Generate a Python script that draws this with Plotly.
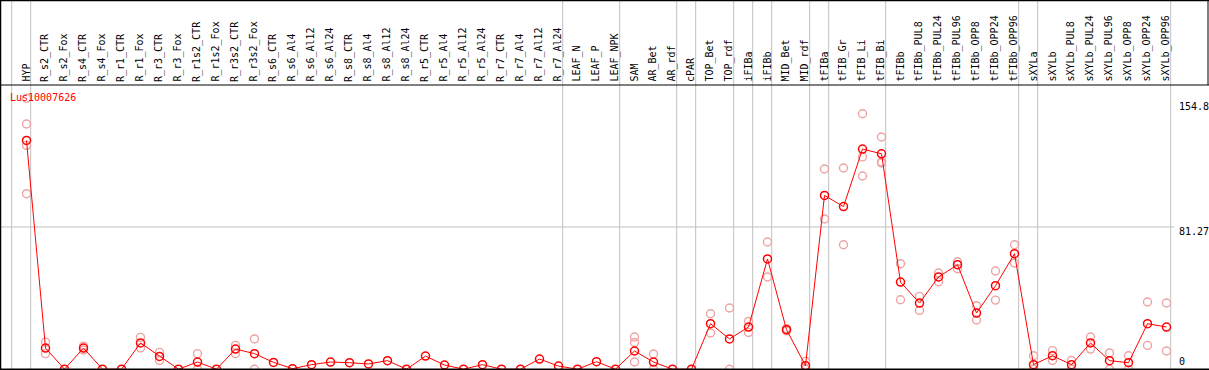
import plotly.graph_objects as go

W, H = 1209, 370

categories = ["HYP", "R_s2_CTR", "R_s2_Fox", "R_s4_CTR", "R_s4_Fox", "R_r1_CTR", "R_r1_Fox",
              "R_r3_CTR", "R_r3_Fox", "R_r1s2_CTR", "R_r1s2_Fox", "R_r3s2_CTR", "R_r3s2_Fox",
              "R_s6_CTR", "R_s6_Al4", "R_s6_Al12", "R_s6_Al24", "R_s8_CTR", "R_s8_Al4",
              "R_s8_Al12", "R_s8_Al24", "R_r5_CTR", "R_r5_Al4", "R_r5_Al12", "R_r5_Al24",
              "R_r7_CTR", "R_r7_Al4", "R_r7_Al12", "R_r7_Al24", "LEAF_N", "LEAF_P", "LEAF_NPK",
              "SAM", "AR_Bet", "AR_rdf", "cPAR", "TOP_Bet", "TOP_rdf", "iFIBa", "iFIBb",
              "MID_Bet", "MID_rdf", "tFIBa", "tFIB_Gr", "tFIB_Li", "tFIB_Bi", "tFIBb",
              "tFIBb_PUL8", "tFIBb_PUL24", "tFIBb_PUL96", "tFIBb_OPP8", "tFIBb_OPP24",
              "tFIBb_OPP96", "sXYLa", "sXYLb", "sXYLb_PUL8", "sXYLb_PUL24", "sXYLb_PUL96",
              "sXYLb_OPP8", "sXYLb_OPP24", "sXYLb_OPP96"]

means = [130.7, 12.1, 0, 12.1, 0, 0, 15.0, 7.3, 0, 4.1, 0, 11.5, 8.9, 3.9, 0.3, 2.6, 4.1,
         3.7, 3.0, 4.9, 0, 7.5, 2.4, 0, 2.6, 0, 0, 5.8, 1.8, 0, 4.3, 0, 10.4, 4.1, 0, 0,
         26.0, 17.3, 24.1, 63.0, 22.6, 2.0, 99.3, 92.9, 125.8, 123.1, 49.8, 37.8, 52.7,
         59.7, 32.1, 47.7, 66.0, 2.6, 7.7, 2.6, 15.0, 4.9, 3.7, 26.0, 24.1]

replicates = [
    [154.8, 140.1, 127.9, 100.3], [15.5, 8.9], [], [13.2, 11.0], [], [], [18.2, 12.1],
    [9.6, 5.0], [], [8.9, 0], [], [13.6, 8.9], [17.3, 0], [], [], [], [], [], [], [], [],
    [], [], [], [], [], [], [], [], [], [], [], [18.4, 15.3, 4.1], [8.7, 0], [], [],
    [31.7, 20.7], [35.0, 0], [27.3, 21.0], [72.7, 52.7], [23.2, 21.9], [4.5, 0],
    [114.4, 85.8], [115.0, 71.1], [146.0, 121.3, 110.4], [132.7, 118.4, 117.8],
    [60.3, 39.7], [41.6, 33.6], [55.0, 50.0], [61.4, 57.4], [36.3, 28.1], [56.1, 39.5],
    [71.1, 60.7], [7.7, 0], [10.6, 5.0], [5.0, 0], [18.4, 11.5], [9.3, 0], [7.7, 0],
    [38.4, 13.6], [37.8, 10.4]]

y_ticks = [0, 81.27, 154.8]
y_tick_labels = ["0", "81.27", "154.8"]

# indices after which a group separator is drawn
separators = [-1, 0, 28, 31, 34, 35, 37, 38, 39, 41, 42, 45, 52, 53, 60]

assert len(categories) == len(means) == len(replicates)

# pixel geometry
X0, DX = 26.5, 19.0         # pixel of first category, spacing
Y0, SY = 369.2, 1.75        # pixel of value 0, pixels per unit
xr = [(0 - X0) / DX, (W - X0) / DX]
yr = [(Y0 - H) / SY, Y0 / SY]

def py(p):  # pixel row -> paper y
    return 1 - p / H

def px(p):  # pixel col -> paper x
    return p / W

xs = list(range(len(categories)))
rx, ry = [], []
for i, reps in enumerate(replicates):
    for v in reps:
        rx.append(i)
        ry.append(v)

fig = go.Figure()
fig.add_trace(go.Scatter(x=rx, y=ry, mode="markers", hoverinfo="skip",
                         marker=dict(symbol="circle-open", size=8, color="#eea3a3",
                                     line=dict(width=1.4, color="#eea3a3"))))
fig.add_trace(go.Scatter(x=xs, y=means, mode="lines+markers",
                         line=dict(color="#ff0000", width=1),
                         marker=dict(symbol="circle-open", size=8, color="#ff0000",
                                     line=dict(width=1.5, color="#ff0000"))))

shapes = []
for s in separators:
    shapes.append(dict(type="line", xref="x", yref="paper", x0=s + 0.22, x1=s + 0.22,
                       y0=0, y1=1, line=dict(color="#c0c0c0", width=1), layer="below"))
# horizontal grid at mid tick
shapes.append(dict(type="line", xref="paper", yref="y", x0=0, x1=px(1174),
                   y0=y_ticks[1], y1=y_ticks[1], line=dict(color="#c0c0c0", width=1),
                   layer="below"))
# baseline
shapes.append(dict(type="line", xref="paper", yref="y", x0=0, x1=1, y0=0, y1=0,
                   line=dict(color="#000000", width=1.5)))
# frame
shapes.append(dict(type="line", xref="paper", yref="paper", x0=px(0.5), x1=px(0.5),
                   y0=0, y1=1, line=dict(color="#000000", width=1.5)))
shapes.append(dict(type="line", xref="paper", yref="paper", x0=px(1208), x1=px(1208),
                   y0=py(0), y1=py(85), line=dict(color="#000000", width=1)))
shapes.append(dict(type="line", xref="paper", yref="paper", x0=0, x1=1,
                   y0=py(0.5), y1=py(0.5), line=dict(color="#000000", width=1.5)))
shapes.append(dict(type="line", xref="paper", yref="paper", x0=0, x1=1,
                   y0=py(85), y1=py(85), line=dict(color="#000000", width=1)))

FONT = "DejaVu Sans Mono"
ann = []
for i, c in enumerate(categories):
    ann.append(dict(x=i - 0.05, xref="x", y=py(84), yref="paper", text=c, showarrow=False,
                    textangle=-90, xanchor="center", yanchor="bottom",
                    font=dict(family=FONT, size=10, color="#000000")))
ann.append(dict(x=px(8), y=py(97), xref="paper", yref="paper", text="Lus10007626",
                showarrow=False, xanchor="left", yanchor="middle",
                font=dict(family=FONT, size=10, color="#ff0000")))
label_rows = {"0": 361.5, "81.27": 231.5, "154.8": 106.5}
for t, lab in zip(y_ticks, y_tick_labels):
    ann.append(dict(x=px(1177), y=py(label_rows[lab]), xref="paper", yref="paper", text=lab,
                    showarrow=False, xanchor="left", yanchor="middle",
                    font=dict(family=FONT, size=10, color="#000000")))

fig.update_layout(width=W, height=H, margin=dict(l=0, r=0, t=0, b=0),
                  paper_bgcolor="white", plot_bgcolor="white", showlegend=False,
                  shapes=shapes, annotations=ann,
                  xaxis=dict(range=xr, visible=False, fixedrange=True),
                  yaxis=dict(range=yr, visible=False, fixedrange=True))

fig.write_html("out.html", config={"displayModeBar": False},
               post_script="document.body.style.margin='0px';"
                           "document.body.style.overflow='hidden';")
